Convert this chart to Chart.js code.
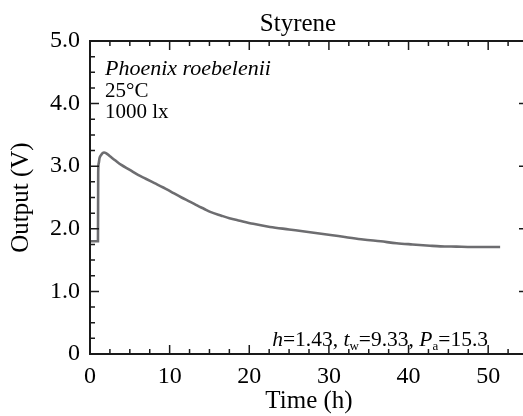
<!DOCTYPE html>
<html>
<head>
<meta charset="utf-8">
<script src="https://cdn.jsdelivr.net/npm/chart.js@4"></script>
<style>
  html, body { margin: 0; padding: 0; background: #fff; overflow: hidden; }
  #wrap { width: 532px; height: 416px; }
</style>
</head>
<body>
<div id="wrap"><canvas id="styreneChart" width="532" height="416"></canvas></div>
<script>
// time (h) and sensor output (V)
const timeH = [0, 0.5, 0.97, 1.0, 1.03, 1.1, 1.2, 1.4, 1.6, 1.76, 2.0, 2.5, 3.2, 3.93, 5.0, 6.03, 7.0, 8.1, 9.2, 10.2, 11.5, 12.6, 13.5, 14.3, 15.1, 16.5, 17.5, 18.8, 20.5, 22.6, 25, 27.4, 30.2, 32, 34.3, 36.5, 38.5, 40.5, 42.7, 44, 46, 48, 50, 51.5];
const outputV = [1.8, 1.8, 1.8, 1.8, 2.9, 3.05, 3.13, 3.18, 3.21, 3.22, 3.21, 3.16, 3.09, 3.02, 2.94, 2.86, 2.8, 2.73, 2.66, 2.59, 2.5, 2.43, 2.37, 2.32, 2.27, 2.21, 2.17, 2.13, 2.08, 2.03, 1.99, 1.95, 1.9, 1.87, 1.83, 1.8, 1.77, 1.75, 1.73, 1.72, 1.715, 1.71, 1.71, 1.71];

const xTicks = [0, 10, 20, 30, 40, 50];
const yTicks = [0, 1, 2, 3, 4, 5];
const yTickLabels = ["0", "1.0", "2.0", "3.0", "4.0", "5.0"];

const serif = '"Liberation Serif", "Times New Roman", serif';

// frame, inward ticks and text notes
const framePlugin = {
    id: "frame",
    afterDraw(chart) {
        const ctx = chart.ctx;
        const a = chart.chartArea;
        const xs = chart.scales.x, ys = chart.scales.y;
        ctx.save();
        ctx.strokeStyle = "#1a1a1a";
        ctx.lineWidth = 2;
        ctx.strokeRect(a.left, a.top, a.right - a.left, a.bottom - a.top);

        ctx.lineWidth = 1.5;
        ctx.beginPath();
        for (let v = 0; v <= 55.001; v += 2.5) {
            const px = xs.getPixelForValue(v);
            const len = (Math.abs(v % 10) < 0.001) ? 9 : 5;
            ctx.moveTo(px, a.bottom); ctx.lineTo(px, a.bottom - len);
            ctx.moveTo(px, a.top); ctx.lineTo(px, a.top + len);
        }
        for (let v = 0; v <= 5.001; v += 0.25) {
            const py = ys.getPixelForValue(v);
            const len = (Math.abs(v % 1) < 0.001) ? 9 : 5;
            ctx.moveTo(a.left, py); ctx.lineTo(a.left + len, py);
            ctx.moveTo(a.right, py); ctx.lineTo(a.right - len, py);
        }
        ctx.stroke();

        ctx.fillStyle = "#000";
        ctx.textBaseline = "alphabetic";
        ctx.textAlign = "center";
        ctx.font = "25px " + serif;
        ctx.fillText("Styrene", 298, 31);

        ctx.textAlign = "left";
        ctx.font = "italic 22px " + serif;
        ctx.fillText("Phoenix roebelenii", 105, 75);
        ctx.font = "21px " + serif;
        ctx.fillText("25\u00B0C", 105, 97);
        ctx.fillText("1000 lx", 105, 118);

        // h=1.43, t_w=9.33, P_a=15.3
        const parts = [
            ["italic 21.5px ", "h", 0], ["21.5px ", "=1.43, ", 0],
            ["italic 21.5px ", "t", 0], ["13px ", "w", 4], ["21.5px ", "=9.33, ", 0],
            ["italic 21.5px ", "P", 0], ["13px ", "a", 4], ["21.5px ", "=15.3", 0]
        ];
        let total = 0;
        parts.forEach(p => { ctx.font = p[0] + serif; total += ctx.measureText(p[1]).width; });
        let x = 488 - total;
        parts.forEach(p => {
            ctx.font = p[0] + serif;
            ctx.fillText(p[1], x, 346 + p[2]);
            x += ctx.measureText(p[1]).width;
        });
        ctx.restore();
    }
};

const ctx = document.getElementById("styreneChart").getContext("2d");
new Chart(ctx, {
    type: "scatter",
    data: {
        datasets: [{
            data: timeH.map((t, i) => ({ x: t, y: outputV[i] })),
            showLine: true,
            borderColor: "#6d6d70",
            borderWidth: 2.6,
            pointRadius: 0,
            cubicInterpolationMode: "monotone"
        }]
    },
    options: {
        responsive: false,
        animation: false,
        layout: { padding: { left: 0, right: 4, top: 41, bottom: 0 } },
        plugins: { legend: { display: false }, tooltip: { enabled: false } },
        scales: {
            x: {
                type: "linear",
                min: 0, max: 55,
                grid: { display: false, drawTicks: false },
                border: { display: false },
                afterBuildTicks: s => { s.ticks = xTicks.map(v => ({ value: v })); },
                afterFit: s => { s.height = 62; },
                ticks: { color: "#000", font: { family: serif, size: 24 }, padding: 8, maxRotation: 0 },
                title: { display: true, text: "Time (h)", color: "#000", font: { family: serif, size: 25 }, padding: { top: 0, bottom: 0 } }
            },
            y: {
                min: 0, max: 5,
                grid: { display: false, drawTicks: false },
                border: { display: false },
                afterBuildTicks: s => { s.ticks = yTicks.map(v => ({ value: v })); },
                afterFit: s => { s.width = 90; },
                ticks: {
                    color: "#000", font: { family: serif, size: 24 }, padding: 10,
                    callback: v => yTickLabels[yTicks.indexOf(v)]
                },
                title: { display: true, text: "Output (V)", color: "#000", font: { family: serif, size: 25 }, padding: { top: 6, bottom: 0 } }
            }
        }
    },
    plugins: [framePlugin]
});
</script>
</body>
</html>
